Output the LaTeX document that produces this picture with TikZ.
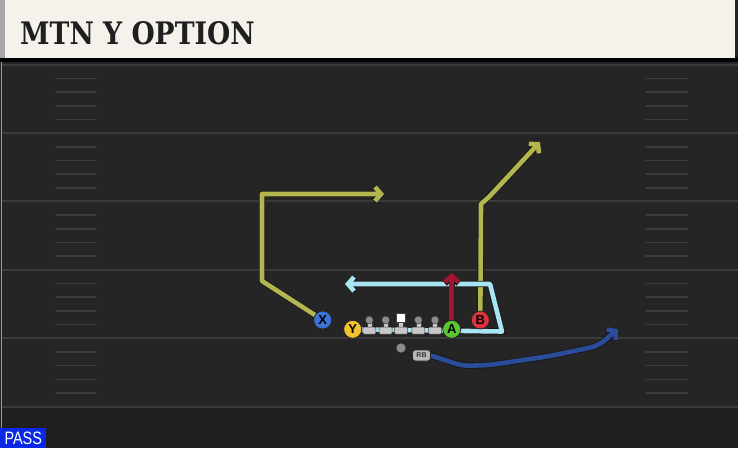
\documentclass[tikz,border=0pt]{standalone}
\usepackage{fontspec}
\setmainfont{Liberation Sans}
\newfontfamily\titlefont{DejaVu Serif}
\usetikzlibrary{arrows.meta}

\definecolor{fieldbg}{HTML}{252525}
\definecolor{fieldlow}{HTML}{1F1F1F}
\definecolor{yardcol}{HTML}{3A3A3A}
\definecolor{hashcol}{HTML}{3D3D3D}
\definecolor{barcol}{HTML}{F4F2EB}
\definecolor{olivecol}{HTML}{B3B54E}
\definecolor{skycol}{HTML}{A9E4F2}
\definecolor{crimsoncol}{HTML}{A3142F}
\definecolor{navycol}{HTML}{2B4C9B}
\definecolor{xcol}{HTML}{3B74D6}
\definecolor{ycol}{HTML}{F2C230}
\definecolor{acol}{HTML}{5CC734}
\definecolor{bcol}{HTML}{E0313F}
\definecolor{passcol}{HTML}{0A28E6}

\pgfdeclarelayer{field}
\pgfdeclarelayer{routes}
\pgfsetlayers{field,routes,main}

\tikzset{
  player/.style={circle, draw=black!85, line width=0.8pt, minimum size=18pt,
    inner sep=0pt, font=\bfseries\fontsize{13}{13}\selectfont},
  route/.style={line width=4.6pt, line join=round,
    preaction={draw=black!90, line width=6.4pt}},
  routetip/.style={-{Straight Barb[length=6pt,width=14pt]}},
  yardline/.style={draw=yardcol, line width=2pt},
  hashmark/.style={draw=hashcol, line width=1.6pt, line cap=round},
  lineman/.style={fill=black!22, draw=black!75, line width=0.5pt}
}

\begin{document}
\begin{tikzpicture}[x=1pt, y=-1pt]
  \useasboundingbox (0,0) rectangle (738,448);

  \begin{pgfonlayer}{field}
    \fill[fieldbg] (0,0) rectangle (738,448);
    \fill[fieldlow] (0,406.6) rectangle (738,448);
    \foreach \y in {64.6,133,201.4,269.8,338.2,406.6} {
      \draw[yardline] (2,\y) -- (738,\y);
    }
    \foreach \y in {64.6,133,201.4,269.8,338.2} {
      \foreach \k in {1,...,4} {
        \draw[hashmark] (56,{\y+13.7*\k}) -- (96,{\y+13.7*\k});
        \draw[hashmark] (646,{\y+13.7*\k}) -- (687,{\y+13.7*\k});
      }
    }
    \draw[black!40, line width=1pt] (1,62) -- (1,448);
    \fill[black] (0,57) rectangle (738,62);
    \fill[barcol] (0,0) rectangle (735,58);
    \fill[black!35] (0,0) rectangle (5,58);
  \end{pgfonlayer}

  \node[anchor=west, text=black!88, inner sep=0pt] (title) at (20,33)
    {\scalebox{0.86}[1]{\titlefont\bfseries\fontsize{31}{31}\selectfont MTN Y OPTION}};
  \node[anchor=south west, fill=passcol, text=white, inner sep=0pt,
    minimum width=46pt, minimum height=20pt] (pass) at (0,448)
    {\scalebox{0.8}[1]{\fontsize{18}{18}\selectfont PASS}};

  % offensive line
  \foreach \lx in {369.3,385.7,401,418.3,435} {
    \draw[lineman] (\lx-2.5,321) rectangle (\lx+2.5,329);
    \draw[lineman, rounded corners=1pt] (\lx-6.5,327) rectangle (\lx+6.5,334);
  }
  \foreach \lx in {369.3,385.7,418.3,435} {
    \draw[fill=black!45, draw=black!75, line width=0.5pt] (\lx,320) circle (3.9);
  }
  \draw[fill=white, draw=black!75, line width=0.5pt] (396.5,313.5) rectangle (405.5,322.5);

  % skill players
  \node[player, fill=xcol] (x) at (322.7,320) {X};
  \node[player, fill=ycol] (y) at (352.7,329.3) {Y};
  \node[player, fill=acol] (a) at (451.7,329.3) {A};
  \node[player, fill=bcol] (b) at (480.3,320) {B};
  \node[circle, fill=black!45, draw=black!70, minimum size=9.5pt, inner sep=0pt] (qb) at (401,348) {};
  \node[fill=black!28, draw=black!85, line width=0.6pt, rounded corners=3pt,
    minimum width=18pt, minimum height=11pt, inner sep=0pt, text=black!80,
    font=\bfseries\fontsize{7}{7}\selectfont] (rb) at (421.5,355.5) {RB};

  % routes
  \begin{pgfonlayer}{routes}
    \draw[route, routetip, olivecol] (x.center) -- (262,281) -- (262,194) -- (384,194);
    \draw[route, routetip, olivecol] (b.center) -- (481,204) -- (489,197) -- (540,142);
    \draw[route, routetip, skycol] (y.center) -- (502,331.5) -- (490,284) -- (345,284);
    \draw[route, routetip, crimsoncol] (a.center) -- (451.7,273);
    \draw[route, routetip, navycol, rounded corners=8pt] (rb.east) -- (463,366)
      -- (490,365) -- (550,356) -- (598,346) -- (618,329);
  \end{pgfonlayer}
\end{tikzpicture}
\end{document}
